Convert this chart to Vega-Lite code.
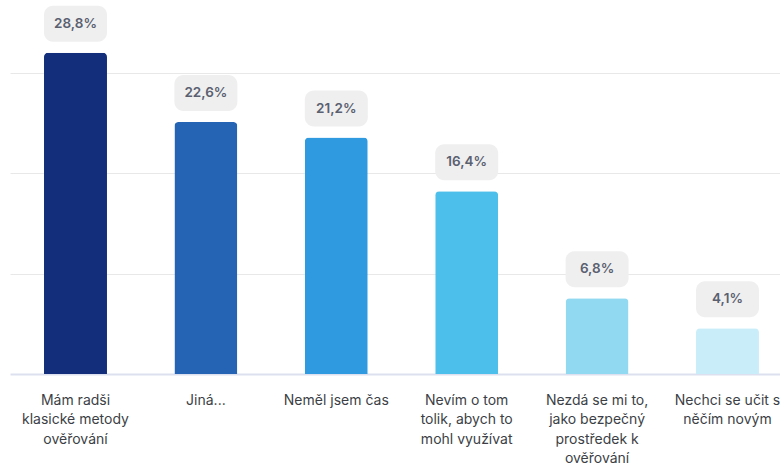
{
  "$schema": "https://vega.github.io/schema/vega-lite/v6.json",
  "autosize": {"type": "none"},
  "width": 770,
  "height": 374,
  "padding": {"left": 10, "top": 0, "right": 0, "bottom": 91},
  "background": "white",
  "config": {"view": {"stroke": null}, "font": "Inter"},
  "data": {
    "values": [
      {"reason": "Mám radši klasické metody ověřování", "share": 28.8, "color": "#132E7A"},
      {"reason": "Jiná...", "share": 22.6, "color": "#2564B4"},
      {"reason": "Neměl jsem čas", "share": 21.2, "color": "#2F9ADF"},
      {"reason": "Nevím o tom tolik, abych to mohl využívat", "share": 16.4, "color": "#4CC0EA"},
      {"reason": "Nezdá se mi to, jako bezpečný prostředek k ověřování", "share": 6.8, "color": "#90D9F1"},
      {"reason": "Nechci se učit s něčím novým", "share": 4.1, "color": "#C9EEF9"}
    ]
  },
  "transform": [
    {"calculate": "replace(format(datum.share, '.1f'), '.', ',') + '%'", "as": "label"}
  ],
  "encoding": {
    "x": {
      "field": "reason",
      "type": "nominal",
      "sort": null,
      "scale": {"paddingInner": 0.517, "paddingOuter": 0.211, "align": 0.618},
      "axis": {
        "title": null,
        "labelAngle": 0,
        "ticks": false,
        "domain": true,
        "domainColor": "#DDE1EF",
        "domainWidth": 2,
        "labelPadding": 19,
        "labelFont": "Inter",
        "labelFontSize": 14,
        "labelColor": "#3C3F46",
        "labelLineHeight": 19.5,
        "labelLimit": 0,
        "labelBaseline": "top",
        "labelOverlap": false,
        "labelBound": false,
        "labelExpr": "{'Mám radši klasické metody ověřování': ['Mám radši', 'klasické metody', 'ověřování'], 'Jiná...': ['Jiná...'], 'Neměl jsem čas': ['Neměl jsem čas'], 'Nevím o tom tolik, abych to mohl využívat': ['Nevím o tom', 'tolik, abych to', 'mohl využívat'], 'Nezdá se mi to, jako bezpečný prostředek k ověřování': ['Nezdá se mi to,', 'jako bezpečný', 'prostředek k', 'ověřování'], 'Nechci se učit s něčím novým': ['Nechci se učit s', 'něčím novým']}[datum.value]"
      }
    }
  },
  "layer": [
    {
      "mark": {"type": "bar", "cornerRadiusTopLeft": 4, "cornerRadiusTopRight": 4},
      "encoding": {
        "y": {
          "field": "share",
          "type": "quantitative",
          "scale": {"domain": [0, 33.54], "nice": false},
          "axis": {
            "title": null,
            "labels": false,
            "ticks": false,
            "domain": false,
            "grid": true,
            "gridColor": "#E8E8E8",
            "gridWidth": 1,
            "values": [9, 18, 27]
          }
        },
        "color": {"field": "color", "type": "nominal", "scale": null, "legend": null}
      }
    },
    {
      "mark": {"type": "rect", "color": "#EFEFEF", "cornerRadius": 9, "yOffset": -47, "y2Offset": -11},
      "encoding": {
        "y": {"field": "share", "type": "quantitative"},
        "y2": {"field": "share"}
      }
    },
    {
      "mark": {"type": "text", "font": "Inter", "fontSize": 13.5, "fontWeight": 600, "color": "#5A6070", "baseline": "middle", "yOffset": -29},
      "encoding": {
        "y": {"field": "share", "type": "quantitative"},
        "text": {"field": "label"}
      }
    }
  ]
}
